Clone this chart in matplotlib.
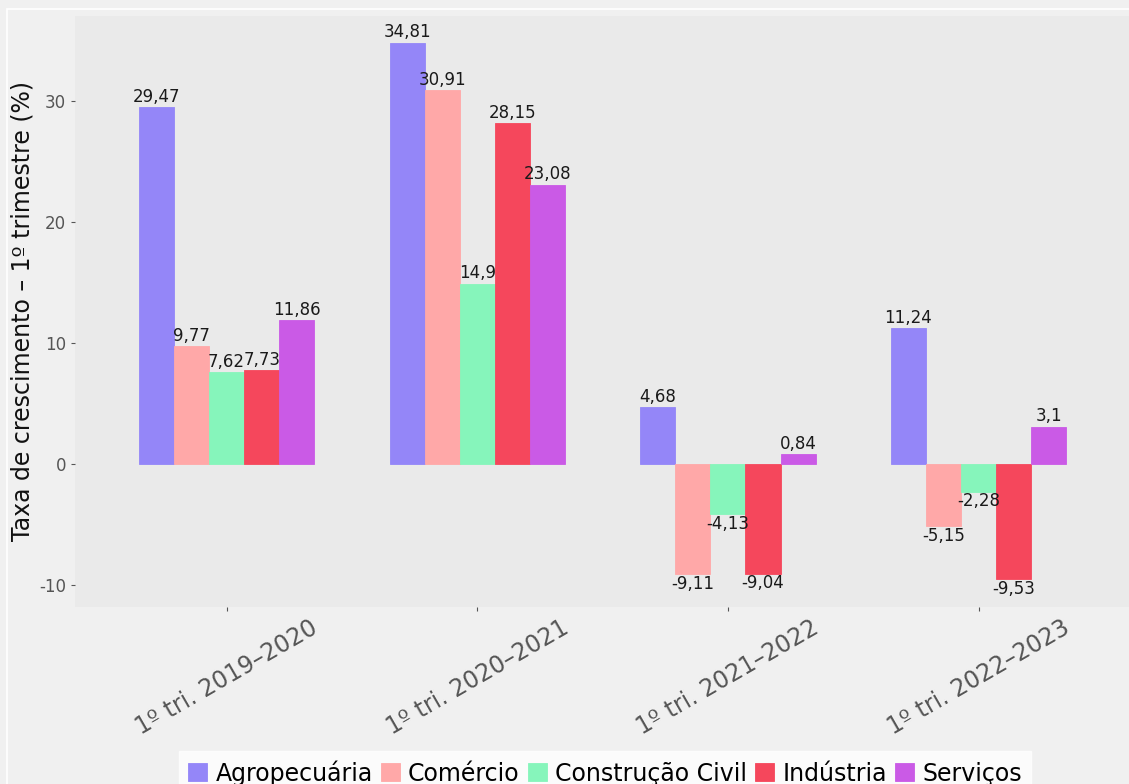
import matplotlib.pyplot as plt
import matplotlib.patches as mpatches
import numpy as np

periodos = ["1º tri. 2019–2020", "1º tri. 2020–2021", "1º tri. 2021–2022", "1º tri. 2022–2023"]
setores = ["Agropecuária", "Comércio", "Construção Civil", "Indústria", "Serviços"]
agropecuaria = [29.47, 34.81, 4.68, 11.24]
comercio = [9.77, 30.91, -9.11, -5.15]
construcao = [7.62, 14.9, -4.13, -2.28]
industria = [7.73, 28.15, -9.04, -9.53]
servicos = [11.86, 23.08, 0.84, 3.1]
cores = ["#9486f8", "#ffa8a8", "#86f5bb", "#f5475c", "#ca5ae6"]


def fmt(v):
    s = f"{v:.2f}".rstrip("0").rstrip(".")
    return s.replace(".", ",")


def main():
    series = [agropecuaria, comercio, construcao, industria, servicos]
    x = np.arange(len(periodos))
    w = 0.14

    fig = plt.figure(figsize=(11.29, 7.84), dpi=100, facecolor="#f0f0f0")
    ax = fig.add_axes([0.0664, 0.2258, 0.9336, 0.7538])
    ax.set_facecolor("#eaeaea")
    fig.patches.append(mpatches.Rectangle((7 / 1129, -0.1), 1.2, 1 - 9 / 784 + 0.1,
                                          transform=fig.transFigure, fill=False,
                                          edgecolor="white", lw=1.2, zorder=0))

    for i, (nome, vals, cor) in enumerate(zip(setores, series, cores)):
        pos = x + (i - 2) * w
        ax.bar(pos, vals, width=w, color=cor, label=nome, edgecolor=cor, linewidth=0.6)
        for p, v in zip(pos, vals):
            if v >= 0:
                ax.text(p, v + 0.1, fmt(v), ha="center", va="bottom", fontsize=12, color="#1a1a1a")
            else:
                ax.text(p, v - 0.05, fmt(v), ha="center", va="top", fontsize=12, color="#1a1a1a")

    ax.set_xlim(-0.605, 3.6)
    ax.set_ylim(-11.8, 37)
    ax.set_yticks([-10, 0, 10, 20, 30])
    ax.set_yticklabels(["-10", "0", "10", "20", "30"])
    ax.set_xticks(x)
    ax.set_xticklabels(periodos, rotation=30, ha="center")
    ax.tick_params(axis="y", labelsize=12, colors="#555555", length=3, width=0.8)
    ax.tick_params(axis="x", labelsize=17, colors="#555555", length=3, width=0.8, pad=3)
    for s in ax.spines.values():
        s.set_visible(False)
    ax.set_ylabel("Taxa de crescimento – 1º trimestre (%)", fontsize=17, color="#111111", labelpad=3)

    leg = fig.legend(loc="lower center", bbox_to_anchor=(0.536, -0.014), ncol=5,
                     fontsize=17, frameon=True, fancybox=False, handlelength=0.8,
                     handleheight=0.8, handletextpad=0.35, columnspacing=0.35,
                     borderpad=0.4, borderaxespad=0)
    leg.get_frame().set_facecolor("white")
    leg.get_frame().set_edgecolor("white")

    fig.savefig("out.png", dpi=100, facecolor=fig.get_facecolor())


if __name__ == '__main__':
    main()
